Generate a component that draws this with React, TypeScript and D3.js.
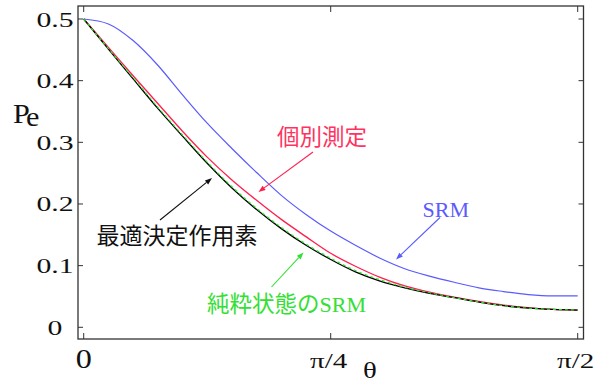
import React from 'react';
import * as d3 from 'd3';

// θ expressed as a fraction of π/2
const thetaFrac = [0, 0.05, 0.1, 0.15, 0.2, 0.25, 0.3, 0.35, 0.4, 0.45, 0.5, 0.55, 0.6, 0.65, 0.7, 0.75, 0.8, 0.85, 0.9, 0.95, 1.0];
const optimal = [0.5, 0.451, 0.403, 0.355, 0.31, 0.266, 0.226, 0.191, 0.16, 0.133, 0.11, 0.09, 0.075, 0.064, 0.055, 0.048, 0.041, 0.035, 0.031, 0.029, 0.028];
const pureSRM = [0.5, 0.452, 0.405, 0.357, 0.312, 0.268, 0.228, 0.193, 0.162, 0.135, 0.112, 0.092, 0.077, 0.065, 0.056, 0.048, 0.041, 0.035, 0.031, 0.029, 0.028];
const individual = [0.5, 0.454, 0.408, 0.363, 0.318, 0.276, 0.239, 0.206, 0.175, 0.147, 0.12, 0.099, 0.081, 0.067, 0.057, 0.049, 0.042, 0.036, 0.032, 0.029, 0.028];
const srm = [0.5, 0.492, 0.465, 0.425, 0.377, 0.331, 0.29, 0.251, 0.214, 0.183, 0.156, 0.133, 0.112, 0.095, 0.083, 0.073, 0.064, 0.058, 0.053, 0.051, 0.051];

const yTicks = [0, 0.1, 0.2, 0.3, 0.4, 0.5];
const yTickLabels = ['0', '0.1', '0.2', '0.3', '0.4', '0.5'];
const xTicks = [0, Math.PI / 4, Math.PI / 2];
const xTickLabels = ['0', 'π/4', 'π/2'];

const W = 603;
const H = 383;
const FL = 78, FR = 583.5, FT = 6, FB = 339;
const xS = d3.scaleLinear().domain([0, Math.PI / 2]).range([83.7, 577.7]);
const yS = d3.scaleLinear().domain([0, 0.5]).range([327.3, 19]);

const serif = "'Liberation Serif', Tinos, 'Times New Roman', Times, 'DejaVu Serif', serif";
const cjk = "'Noto Sans CJK JP', 'Noto Sans CJK SC', sans-serif";

const COL_SRM = '#5a5aff';
const COL_IND = '#ff1f4f';
const COL_PURE = '#2ee62e';
const COL_OPT = '#000000';

function series(vals: number[]) {
  return thetaFrac.map((t, i) => [t * Math.PI / 2, vals[i]] as [number, number]);
}

const line = d3.line<[number, number]>()
  .x(d => xS(d[0]))
  .y(d => yS(d[1]))
  .curve(d3.curveMonotoneX);

function Arrow({ x1, y1, x2, y2, color }: { x1: number; y1: number; x2: number; y2: number; color: string }) {
  const dx = x2 - x1, dy = y2 - y1;
  const len = Math.sqrt(dx * dx + dy * dy);
  const ux = dx / len, uy = dy / len;
  const L = 7, Wd = 2.6;
  const bx = x2 - ux * L, by = y2 - uy * L;
  const p1 = [bx - uy * Wd, by + ux * Wd];
  const p2 = [bx + uy * Wd, by - ux * Wd];
  return (
    <g>
      <line x1={x1} y1={y1} x2={bx} y2={by} stroke={color} strokeWidth={1.1} />
      <path d={`M${x2},${y2}L${p1[0]},${p1[1]}L${p2[0]},${p2[1]}Z`} fill={color} />
    </g>
  );
}

export default function App() {
  return (
    <svg width={W} height={H} style={{ position: 'absolute', left: 0, top: 0, background: '#fff' }}>
      <rect x={0} y={0} width={W} height={H} fill="#fff" />
      {/* curves */}
      <path d={line(series(srm)) || ''} fill="none" stroke={COL_SRM} strokeWidth={1.2} />
      <path d={line(series(individual)) || ''} fill="none" stroke={COL_IND} strokeWidth={1.3} />
      <path d={line(series(optimal)) || ''} fill="none" stroke={COL_OPT} strokeWidth={1.3} />
      <path d={line(series(pureSRM)) || ''} fill="none" stroke={COL_PURE} strokeWidth={1.2} strokeDasharray="3 3" />

      {/* frame */}
      <rect x={FL} y={FT} width={FR - FL} height={FB - FT} fill="none" stroke="#333" strokeWidth={1.3} />
      {/* y ticks */}
      {yTicks.map((v, i) => (
        <g key={'yt' + i}>
          <line x1={FL} x2={FL + 5} y1={yS(v)} y2={yS(v)} stroke="#333" strokeWidth={1} />
          <line x1={FR} x2={FR - 5} y1={yS(v)} y2={yS(v)} stroke="#333" strokeWidth={1} />
          <text
            transform={`translate(55,${yS(v) + 7.5}) scale(1.35,1)`}
            textAnchor="middle"
            fontFamily={serif}
            fontSize={22}
            fill="#111"
          >{yTickLabels[i]}</text>
        </g>
      ))}
      {/* x ticks */}
      {xTicks.map((v, i) => (
        <g key={'xt' + i}>
          <line x1={xS(v)} x2={xS(v)} y1={FB} y2={FB - 6} stroke="#333" strokeWidth={1} />
          <line x1={xS(v)} x2={xS(v)} y1={FT} y2={FT + 6} stroke="#333" strokeWidth={1} />
          <text
            transform={`translate(${xS(v) - (i === 0 ? 0 : 2)},367.5) scale(${i === 0 ? 1.15 : 1.32},1)`}
            textAnchor="middle"
            fontFamily={serif}
            fontSize={i === 0 ? 28 : 22}
            fill="#111"
          >{xTickLabels[i]}</text>
        </g>
      ))}

      {/* axis labels */}
      <text transform="translate(13,123) scale(1.12,1)" fontFamily={serif} fontSize={27} fill="#111">P</text>
      <text transform="translate(26,126) scale(1.12,1)" fontFamily={serif} fontSize={27} fill="#111">e</text>
      <text transform="translate(370,378) scale(1.2,1)" textAnchor="middle" fontFamily={serif} fontSize={24} fill="#111">θ</text>

      {/* annotations */}
      <text x={277} y={145} fontFamily={cjk} fontSize={22.5} fill="#ff3360">個別測定</text>
      <Arrow x1={313} y1={152} x2={258.5} y2={192} color={COL_IND} />

      <text x={422.5} y={216.7} fontFamily={serif} fontSize={22} fill={COL_SRM}>SRM</text>
      <Arrow x1={440} y1={217.5} x2={396} y2={259.5} color={COL_SRM} />

      <text x={96.5} y={243.5} fontFamily={cjk} fontSize={23} fill="#111">最適決定作用素</text>
      <Arrow x1={160} y1={220} x2={212} y2={178} color="#111" />

      <text x={207} y={311.5} fontFamily={cjk} fontSize={22.5} fill="#33e033">
        純粋状態の<tspan fontFamily={serif} fontSize={22}>SRM</tspan>
      </text>
      <Arrow x1={271.5} y1={287} x2={303.5} y2={252.5} color="#33e033" />
    </svg>
  );
}
